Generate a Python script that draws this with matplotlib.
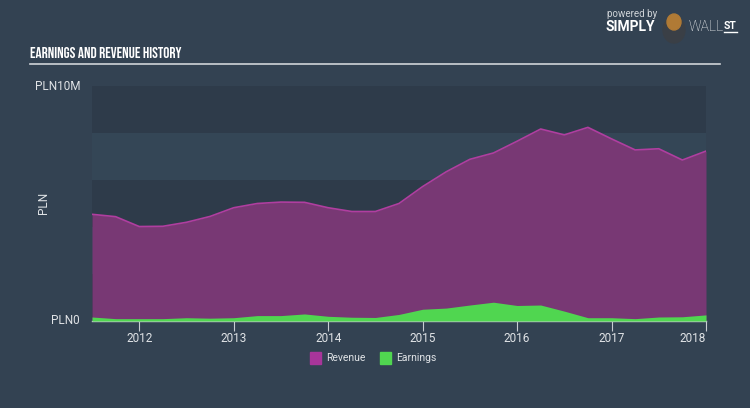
import matplotlib
matplotlib.use('Agg')
import matplotlib.pyplot as plt
import numpy as np

# datos (millones de PLN), trimestrales
years = [2011.5, 2011.75, 2012.0, 2012.25, 2012.5, 2012.75, 2013.0, 2013.25, 2013.5,
         2013.75, 2014.0, 2014.25, 2014.5, 2014.75, 2015.0, 2015.25, 2015.5, 2015.75,
         2016.0, 2016.25, 2016.5, 2016.75, 2017.0, 2017.25, 2017.5, 2017.75, 2018.0]
revenue = [4.54, 4.44, 4.02, 4.03, 4.2, 4.45, 4.82, 5.0, 5.06,
           5.05, 4.82, 4.66, 4.66, 5.0, 5.72, 6.35, 6.88, 7.15,
           7.65, 8.17, 7.92, 8.24, 7.75, 7.28, 7.33, 6.85, 7.23]
earnings = [0.17, 0.1, 0.1, 0.1, 0.14, 0.12, 0.14, 0.23, 0.23,
            0.3, 0.2, 0.16, 0.15, 0.28, 0.5, 0.55, 0.68, 0.8,
            0.66, 0.68, 0.42, 0.14, 0.14, 0.1, 0.17, 0.18, 0.26]
tick_years = [2012, 2013, 2014, 2015, 2016, 2017, 2018]

bg = '#334252'
txt = '#e0e3e6'
plt.rcParams['font.family'] = ['Roboto', 'DejaVu Sans']

fig = plt.figure(figsize=(7.5, 4.08), dpi=100)
fig.patch.set_facecolor(bg)

ax = fig.add_axes([92 / 750, 87 / 408, 614 / 750, 235 / 408])
ax.set_facecolor(bg)

# bandas horizontales del fondo
for i, lo in enumerate(range(0, 10, 2)):
    col = '#2e3b4a' if i % 2 == 0 else '#344656'
    ax.axhspan(lo, lo + 2, color=col, lw=0, zorder=0)

ax.fill_between(years, revenue, color='#783874', lw=0, zorder=2)
ax.plot(years, revenue, color='#b03ea0', lw=1.2, zorder=3)
ax.fill_between(years, earnings, color='#50d650', lw=0, zorder=4)

ax.set_xlim(2011.5, 2018.0)
ax.set_ylim(0, 10)
for s in ['top', 'right', 'left']:
    ax.spines[s].set_visible(False)
ax.spines['bottom'].set_color('#c8cdd2')
ax.spines['bottom'].set_linewidth(1)
ax.set_xticks(tick_years)
ax.set_xticklabels([str(y) for y in tick_years])
ax.tick_params(axis='x', colors='#c8cdd2', labelcolor=txt, length=7,
               labelsize=8.5, pad=1)
ax.get_xticklabels()[-1].set_horizontalalignment('right')
ax.set_yticks([])

fig.text(80 / 750, 1 - 86 / 408, 'PLN10M', color=txt, fontsize=8.5,
         ha='right', va='center')
fig.text(80 / 750, 1 - 321 / 408, 'PLN0', color=txt, fontsize=8.5,
         ha='right', va='center')
fig.text(43 / 750, 1 - 203 / 408, 'PLN', color=txt, fontsize=8.5,
         ha='center', va='center', rotation=90)

# título y línea
fig.text(30 / 750, 1 - 53 / 408, 'EARNINGS AND REVENUE HISTORY', color='white',
         fontsize=11, family=['Bebas Neue', 'Oswald', 'DejaVu Sans'],
         ha='left', va='center')
fig.add_artist(plt.Line2D([30 / 750, 720 / 750], [1 - 64 / 408] * 2,
                          color='#d0d4d8', lw=1.2))

# marca
fig.text(607 / 750, 1 - 14 / 408, 'powered by', color='#d0d4d8', fontsize=7,
         ha='left', va='center')
fig.text(606 / 750, 1 - 27 / 408, 'SIMPLY', color='white', fontsize=10,
         fontweight='bold', ha='left', va='center')
fig.add_artist(matplotlib.patches.Ellipse((674 / 750, 1 - 30 / 408), 22 / 750,
                                          26 / 408, color='#3a3f46',
                                          transform=fig.transFigure))
fig.add_artist(matplotlib.patches.Ellipse((674 / 750, 1 - 22 / 408), 14 / 750,
                                          16 / 408, color='#b07a35',
                                          transform=fig.transFigure))
fig.text(689 / 750, 1 - 27 / 408, 'WALL', color='white', fontsize=10,
         fontweight='light', ha='left', va='center')
fig.text(724 / 750, 1 - 26 / 408, 'ST', color='white', fontsize=7.5,
         fontweight='bold', ha='left', va='center')
fig.add_artist(plt.Line2D([724 / 750, 737 / 750], [1 - 32 / 408] * 2,
                          color='white', lw=1))

# leyenda
fig.add_artist(plt.Rectangle((310 / 750, 1 - 364 / 408), 11 / 750, 12 / 408,
                             color='#a8359a', transform=fig.transFigure))
fig.text(326 / 750, 1 - 358 / 408, 'Revenue', color=txt, fontsize=7.5,
         ha='left', va='center')
fig.add_artist(plt.Rectangle((380 / 750, 1 - 364 / 408), 11 / 750, 12 / 408,
                             color='#50d650', transform=fig.transFigure))
fig.text(396 / 750, 1 - 358 / 408, 'Earnings', color=txt, fontsize=7.5,
         ha='left', va='center')

fig.savefig('out.png', dpi=100, facecolor=bg)
